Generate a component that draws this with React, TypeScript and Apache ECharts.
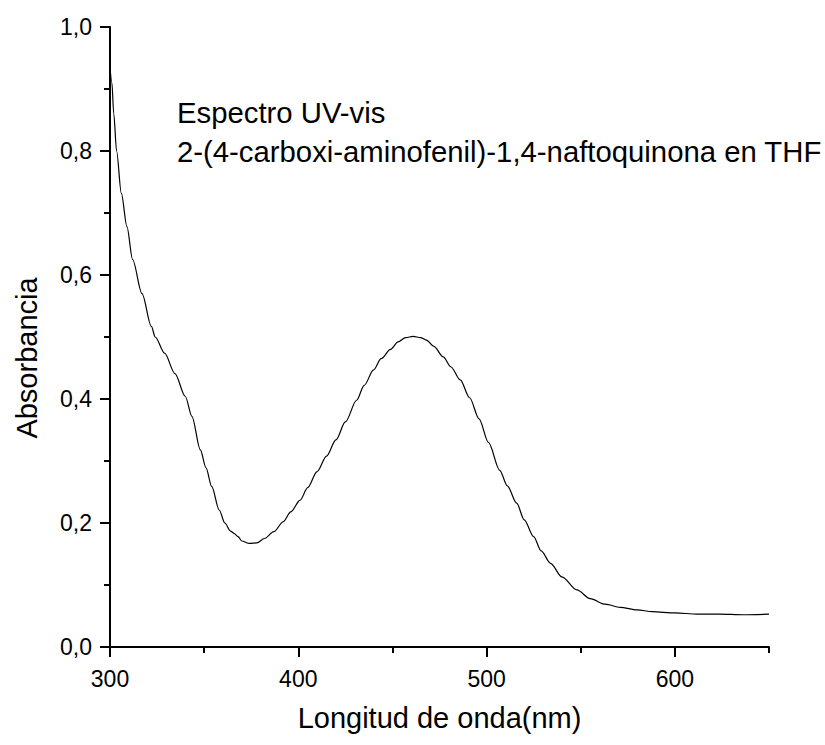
import { useEffect, useRef } from 'react';
import * as echarts from 'echarts';

// UV-vis spectrum: wavelength (nm) and absorbance
const wavelength = [
  300, 301, 302, 303.5, 306, 309, 312, 317, 322, 324, 329, 334.5, 340, 343.5,
  348, 351, 354, 358, 361, 364, 366, 368, 370, 374, 378, 382, 387, 392, 396,
  401, 405, 410, 415, 420, 425, 431, 435, 440, 444, 449, 453, 457, 461, 465,
  468, 472, 477, 481, 486, 491, 496, 501, 507, 511, 516, 520, 525, 529, 534,
  540, 548, 555, 563, 571, 580, 588, 600, 612, 624, 636, 650,
];
const absorbance = [
  0.935, 0.91, 0.86, 0.8, 0.732, 0.678, 0.625, 0.57, 0.517, 0.5, 0.474,
  0.441, 0.404, 0.372, 0.318, 0.289, 0.259, 0.221, 0.2, 0.187, 0.183,
  0.178, 0.171, 0.167, 0.168, 0.175, 0.186, 0.202, 0.218, 0.237, 0.257,
  0.283, 0.308, 0.334, 0.363, 0.398, 0.422, 0.447, 0.465, 0.48, 0.492, 0.499,
  0.501, 0.499, 0.495, 0.485, 0.468, 0.452, 0.431, 0.402, 0.368, 0.33, 0.285,
  0.26, 0.232, 0.205, 0.178, 0.155, 0.135, 0.113, 0.092, 0.078, 0.069, 0.064,
  0.06, 0.057, 0.055, 0.053, 0.053, 0.052, 0.053,
];

const xMajorTicks = [300, 400, 500, 600];
const annotationLines = [
  'Espectro UV-vis',
  '2-(4-carboxi-aminofenil)-1,4-naftoquinona en THF',
];
const xName = 'Longitud de onda(nm)';
const yName = 'Absorbancia';

const FONT = 'Arial, "Liberation Sans", Helvetica, sans-serif';

export default function App() {
  const ref = useRef<HTMLDivElement>(null);

  useEffect(() => {
    if (!ref.current) return;
    const chart = echarts.init(ref.current, undefined, { renderer: 'svg' });
    const axisLine = { show: true, lineStyle: { color: '#000', width: 2 } };

    chart.setOption({
      animation: false,
      backgroundColor: '#fff',
      textStyle: { fontFamily: FONT },
      grid: { left: 110, right: 56, top: 27, bottom: 98 },
      xAxis: [
        {
          type: 'value',
          position: 'bottom',
          min: 300,
          max: 650,
          interval: 100,
          axisLine,
          axisTick: {
            show: true,
            inside: false,
            length: 10,
            customValues: xMajorTicks,
            lineStyle: { color: '#000', width: 2 },
          },
          axisLabel: {
            customValues: xMajorTicks,
            color: '#000',
            fontSize: 23,
            fontFamily: FONT,
            margin: 20,
          },
          splitLine: { show: false },
        },
        {
          // short ticks every 50 nm
          type: 'value',
          position: 'bottom',
          min: 300,
          max: 650,
          interval: 50,
          axisLine: { show: false },
          axisTick: {
            show: true,
            inside: false,
            length: 6,
            lineStyle: { color: '#000', width: 2 },
          },
          axisLabel: { show: false },
          splitLine: { show: false },
        },
      ],
      yAxis: {
        type: 'value',
        min: 0,
        max: 1,
        interval: 0.2,
        axisLine,
        axisTick: {
          show: true,
          inside: false,
          length: 10,
          lineStyle: { color: '#000', width: 2 },
        },
        minorTick: {
          show: true,
          splitNumber: 2,
          length: 6,
          lineStyle: { color: '#000', width: 2 },
        },
        axisLabel: {
          color: '#000',
          fontSize: 23,
          fontFamily: FONT,
          margin: 18,
          formatter: (v: number) => v.toFixed(1).replace('.', ','),
        },
        splitLine: { show: false },
      },
      series: [
        {
          type: 'line',
          xAxisIndex: 0,
          data: wavelength.map((w, i) => [w, absorbance[i]]),
          showSymbol: false,
          smooth: 0.3,
          smoothMonotone: 'x',
          lineStyle: { color: '#000', width: 1.2 },
          silent: true,
        },
      ],
      graphic: [
        ...annotationLines.map((t, i) => ({
          type: 'text',
          x: 177,
          y: i === 0 ? 112 : 151,
          style: {
            text: t,
            fill: '#000',
            font: `29.3px ${FONT}`,
            textAlign: 'left',
            textVerticalAlign: 'middle',
          },
        })),
        {
          type: 'text',
          x: 439.5,
          y: 718,
          style: {
            text: xName,
            fill: '#000',
            font: `29px ${FONT}`,
            textAlign: 'center',
            textVerticalAlign: 'middle',
          },
        },
        {
          type: 'text',
          x: 26.5,
          y: 358,
          rotation: Math.PI / 2,
          style: {
            text: yName,
            fill: '#000',
            font: `29px ${FONT}`,
            textAlign: 'center',
            textVerticalAlign: 'middle',
          },
        },
      ],
    });

    return () => chart.dispose();
  }, []);

  return (
    <div
      ref={ref}
      style={{
        position: 'fixed',
        left: 0,
        top: 0,
        width: 825,
        height: 745,
        background: '#fff',
      }}
    />
  );
}
